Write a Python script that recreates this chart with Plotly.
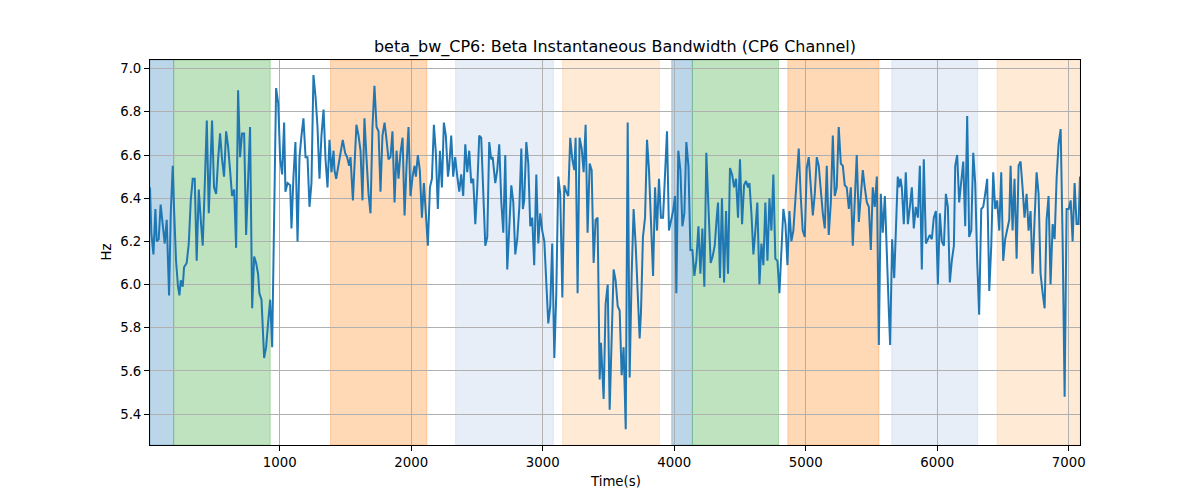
import plotly.graph_objects as go

time_s = [13, 23, 39, 54, 64, 79, 94, 110, 125, 140, 158, 171, 186, 196, 211, 226, 237, 247, 262, 272,
          292, 308, 323, 338, 353, 368, 384, 399, 414, 429, 445, 460, 485, 500, 516, 531, 546, 561, 576, 592,
          607, 622, 637, 653, 668, 683, 698, 713, 729, 744, 759, 774, 790, 805, 820, 835, 845, 861, 881, 896,
          911, 927, 942, 957, 972, 988, 1003, 1018, 1033, 1043, 1059, 1079, 1089, 1104, 1119, 1135, 1150, 1165, 1180, 1196,
          1211, 1226, 1241, 1256, 1272, 1287, 1302, 1317, 1333, 1348, 1363, 1378, 1393, 1409,
          1416, 1429, 1446, 1462, 1479, 1497, 1512, 1528, 1538, 1556, 1568, 1583, 1599, 1614, 1629, 1644, 1660, 1675, 1690, 1705,
          1720, 1736, 1751, 1766, 1781, 1797, 1812, 1827, 1842, 1857, 1873, 1888, 1903, 1918, 1934, 1949, 1964, 1979, 1994, 2010,
          2025, 2035, 2050, 2065, 2081, 2096, 2111, 2126, 2142, 2157, 2172, 2187, 2202, 2218, 2233, 2248, 2263, 2279, 2289, 2304,
          2319, 2334, 2350, 2365, 2380, 2395, 2411, 2426, 2441, 2456, 2471, 2487, 2502, 2517, 2532, 2548, 2563, 2578, 2593, 2608,
          2619, 2639, 2654, 2669, 2685, 2700, 2715, 2730, 2745, 2761, 2776, 2791, 2806, 2822, 2837,
          2849, 2859, 2875, 2890, 2905, 2920, 2935, 2951, 2966, 2981, 2996, 3012, 3027, 3042, 3057, 3072, 3088, 3103, 3118, 3133,
          3149, 3164, 3179, 3194, 3209, 3225, 3240, 3250, 3265, 3280, 3296, 3311, 3326, 3341, 3357, 3372, 3387, 3402, 3417, 3433,
          3443, 3463, 3478, 3494, 3509, 3524, 3539, 3554, 3570, 3585, 3600, 3615, 3631, 3646, 3661, 3676, 3691, 3707, 3722, 3737,
          3747, 3762, 3778, 3793, 3808, 3823, 3839, 3854, 3869, 3884, 3899, 3915, 3930, 3945, 3960, 3976, 3991, 4006, 4016, 4031,
          4047, 4062, 4077, 4092, 4108, 4123, 4138, 4153, 4168, 4184, 4199, 4214, 4229, 4244, 4260,
          4277, 4292, 4308, 4323, 4333, 4348, 4363, 4379, 4394, 4409, 4424, 4440, 4455, 4470, 4485, 4500, 4516, 4531, 4546, 4561,
          4572, 4587, 4602, 4617, 4632, 4648, 4663, 4678, 4693, 4709, 4724, 4739, 4754, 4769, 4785, 4800, 4815, 4830, 4846, 4861,
          4876, 4891, 4906, 4922, 4932, 4947, 4962, 4977, 4993, 5008, 5023, 5038, 5054, 5069, 5084, 5099, 5114, 5130, 5145, 5160,
          5175, 5191, 5206, 5221, 5236, 5251, 5267, 5282, 5297, 5312, 5328, 5343, 5358, 5373, 5388, 5404, 5419, 5434, 5449, 5465,
          5480, 5495, 5510, 5525, 5541, 5556, 5571, 5586, 5602, 5617, 5632, 5642, 5657, 5673,
          5700, 5711, 5721, 5731, 5746, 5761, 5777, 5792, 5807, 5822, 5837, 5853, 5868, 5883, 5898, 5914, 5929, 5944, 5959, 5974,
          5990, 6005, 6020, 6035, 6051, 6066, 6081, 6096, 6111, 6127, 6137, 6152, 6167, 6182, 6198, 6213, 6228, 6243, 6259, 6274,
          6289, 6304, 6319, 6335, 6350, 6365, 6380, 6396, 6411, 6426, 6441, 6456, 6472, 6487, 6502, 6517, 6533, 6548, 6558, 6573,
          6588, 6604, 6619, 6634, 6649, 6664, 6680, 6695, 6710, 6725, 6741, 6756, 6771, 6786, 6802, 6817, 6832, 6847, 6862, 6878,
          6893, 6908, 6923, 6939, 6954, 6969, 6984, 7000, 7015, 7030, 7045, 7060, 7075, 7086]

beta_bw_hz = [6.45, 6.24, 6.14, 6.35, 6.20, 6.21, 6.37, 6.27, 6.19, 6.30, 5.95, 6.33, 6.55, 6.35, 6.11, 5.99, 5.95, 6.02, 5.99, 6.08,
              6.10, 6.19, 6.39, 6.49, 6.49, 6.11, 6.44, 6.30, 6.18, 6.45, 6.76, 6.33, 6.76, 6.45, 6.42, 6.58, 6.70, 6.58, 6.50, 6.71,
              6.64, 6.53, 6.41, 6.44, 6.17, 6.90, 6.59, 6.70, 6.70, 6.23, 6.50, 6.73, 5.89, 6.13, 6.10, 6.05, 5.96, 5.93, 5.66, 5.71,
              5.82, 5.93, 5.71, 6.27, 6.91, 6.84, 6.58, 6.51, 6.75, 6.43, 6.47, 6.46, 6.26, 6.50, 6.66, 6.20, 6.59, 6.69, 6.77, 6.59,
              6.59, 6.36, 6.47, 6.97, 6.87, 6.73, 6.49, 6.69, 6.81, 6.58, 6.45, 6.67, 6.52, 6.62,
              6.53, 6.49, 6.55, 6.59, 6.67, 6.61, 6.59, 6.55, 6.59, 6.39, 6.53, 6.74, 6.69, 6.62, 6.39, 6.77, 6.58, 6.42, 6.33, 6.73,
              6.92, 6.73, 6.71, 6.43, 6.69, 6.75, 6.67, 6.58, 6.59, 6.71, 6.38, 6.62, 6.49, 6.61, 6.68, 6.32, 6.55, 6.73, 6.41, 6.50,
              6.55, 6.50, 6.60, 6.53, 6.31, 6.47, 6.33, 6.18, 6.45, 6.49, 6.74, 6.61, 6.35, 6.62, 6.45, 6.75, 6.69, 6.50, 6.55, 6.69,
              6.50, 6.59, 6.50, 6.43, 6.51, 6.41, 6.65, 6.52, 6.62, 6.47, 6.49, 6.28, 6.45, 6.69, 6.68, 6.41, 6.18, 6.22, 6.66, 6.58,
              6.59, 6.47, 6.53, 6.65, 6.38, 6.24, 6.60, 6.07, 6.27, 6.46, 6.38, 6.14, 6.21, 6.36, 6.63,
              6.35, 6.39, 6.66, 6.56, 6.27, 6.31, 6.09, 6.51, 6.19, 6.33, 6.25, 6.20, 6.02, 5.82, 5.90, 6.19, 5.66, 5.96, 6.50, 6.42,
              5.94, 6.46, 6.43, 6.41, 6.68, 6.58, 6.53, 6.68, 5.96, 6.68, 6.63, 6.52, 6.74, 6.24, 6.56, 6.53, 6.10, 6.30, 6.31, 5.56,
              5.73, 5.47, 5.91, 6.00, 5.42, 5.80, 6.07, 6.02, 5.90, 5.88, 5.58, 5.71, 5.33, 6.75, 5.57, 6.04, 6.35, 6.18, 5.96, 5.75,
              5.87, 6.22, 6.31, 6.67, 6.53, 6.31, 6.04, 6.45, 6.25, 6.49, 6.31, 6.31, 6.52, 6.71, 6.25, 6.30, 6.34, 6.41, 5.96, 6.62,
              6.53, 6.27, 6.33, 6.66, 6.55, 6.16, 6.16, 6.04, 6.11, 6.27, 6.05, 6.26, 5.99, 6.61, 6.36,
              6.10, 6.13, 6.18, 6.31, 6.38, 6.03, 6.40, 6.01, 6.34, 6.05, 6.54, 6.51, 6.45, 6.49, 6.31, 6.58, 6.28, 6.46, 6.48, 6.45,
              6.47, 6.33, 6.14, 6.25, 6.38, 6.00, 6.19, 6.09, 6.38, 6.11, 6.40, 6.25, 6.51, 6.12, 6.11, 5.96, 6.18, 6.35, 6.28, 6.09,
              6.34, 6.20, 6.25, 6.42, 6.53, 6.63, 6.41, 6.25, 6.22, 6.54, 6.59, 6.45, 6.32, 6.42, 6.59, 6.55, 6.42, 6.33, 6.26, 6.55,
              6.23, 6.38, 6.69, 6.41, 6.45, 6.73, 6.56, 6.55, 6.46, 6.45, 6.35, 6.45, 6.18, 6.42, 6.60, 6.29, 6.43, 6.53, 6.45, 6.38,
              6.36, 6.16, 6.45, 6.36, 6.50, 5.72, 6.42, 6.24, 6.41, 6.10, 5.88, 5.72, 6.21, 6.03,
              6.50, 6.45, 6.49, 6.45, 6.28, 6.52, 6.28, 6.36, 6.45, 6.26, 6.36, 6.31, 6.55, 6.07, 6.58, 6.19, 6.21, 6.23, 6.21, 6.31,
              6.34, 6.00, 6.33, 6.20, 6.18, 6.42, 6.36, 6.01, 6.11, 6.18, 6.55, 6.60, 6.38, 6.49, 6.57, 6.27, 6.78, 6.22, 6.25, 6.61,
              6.47, 6.11, 5.86, 6.35, 6.36, 6.42, 6.49, 5.97, 6.18, 6.52, 6.35, 6.39, 6.25, 6.52, 6.11, 6.21, 6.25, 6.30, 6.55, 6.25,
              6.49, 6.12, 6.55, 6.57, 6.45, 6.31, 6.42, 6.25, 6.34, 6.05, 6.31, 6.52, 6.42, 6.05, 5.96, 5.89, 6.30, 6.41, 6.00, 6.28,
              6.21, 6.49, 6.65, 6.72, 6.20, 5.48, 6.35, 6.35, 6.39, 6.20, 6.47, 6.28, 6.28, 6.50]

# shaded segments: start, end, colour
seg_start = [13, 193, 1386, 2337, 3151, 3981, 4138, 4864, 5655, 6455]
seg_end = [193, 927, 2119, 3081, 3887, 4138, 4793, 5557, 6307, 7086]
seg_color = ["rgba(31,119,180,0.3)", "rgba(44,160,44,0.3)", "rgba(255,127,14,0.3)",
             "rgba(174,199,232,0.3)", "rgba(255,187,120,0.3)",
             "rgba(31,119,180,0.3)", "rgba(44,160,44,0.3)", "rgba(255,127,14,0.3)",
             "rgba(174,199,232,0.3)", "rgba(255,187,120,0.3)"]

x_ticks = [1000, 2000, 3000, 4000, 5000, 6000, 7000]
y_ticks = [5.4, 5.6, 5.8, 6.0, 6.2, 6.4, 6.6, 6.8, 7.0]

fig = go.Figure()
fig.add_trace(go.Scatter(x=time_s, y=beta_bw_hz, mode="lines",
                         line=dict(color="#1f77b4", width=2), showlegend=False))

for s, e, c in zip(seg_start, seg_end, seg_color):
    fig.add_shape(type="rect", xref="x", yref="paper", x0=s, x1=e, y0=0, y1=1,
                  fillcolor=c, line=dict(color=c, width=1), layer="below")

# the page body has an 8px margin, so the figure is sized/offset to compensate
W, H = 1192, 492
font = "DejaVu Sans, sans-serif"
fig.update_layout(
    width=W, height=H,
    margin=dict(l=142, r=120, t=52, b=55),
    paper_bgcolor="white", plot_bgcolor="white",
    font=dict(family=font, size=13.3, color="black"),
    title=dict(text="beta_bw_CP6: Beta Instantaneous Bandwidth (CP6 Channel)",
               x=(615 - 8) / W, xanchor="center", y=1 - 38 / H, yanchor="middle",
               font=dict(family=font, size=16, color="black")),
    annotations=[
        dict(text="Time(s)", xref="paper", yref="paper", x=0.5, y=-36 / 385,
             xanchor="center", yanchor="middle", showarrow=False,
             font=dict(family=font, size=13.3, color="black")),
        dict(text="Hz", xref="paper", yref="paper", x=-44 / 930, y=0.5,
             xanchor="center", yanchor="middle", showarrow=False, textangle=-90,
             font=dict(family=font, size=13.3, color="black")),
    ],
)
fig.update_xaxes(range=[13, 7086], tickvals=x_ticks, ticktext=[str(v) for v in x_ticks],
                 showgrid=True, gridcolor="#b0b0b0", gridwidth=1,
                 showline=True, linecolor="black", linewidth=1, mirror=True,
                 ticks="outside", ticklen=5, tickcolor="black", zeroline=False)
fig.update_yaxes(range=[5.257, 7.04], tickvals=y_ticks, ticktext=[f"{v:.1f}" for v in y_ticks],
                 showgrid=True, gridcolor="#b0b0b0", gridwidth=1,
                 showline=True, linecolor="black", linewidth=1, mirror=True,
                 ticks="outside", ticklen=5, tickcolor="black", zeroline=False)

fig.write_html("out.html")
